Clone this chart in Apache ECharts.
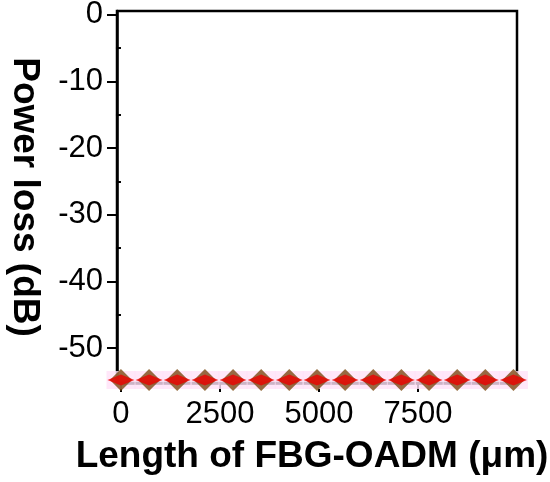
<!DOCTYPE html>
<html>
<head>
<meta charset="utf-8">
<script src="https://cdn.jsdelivr.net/npm/echarts@6/dist/echarts.min.js"></script>
<style>
  html, body { margin: 0; padding: 0; background: #fff; }
  #chart { width: 550px; height: 482px; }
</style>
</head>
<body>
<div id="chart"></div>
<script>
// length of the FBG-OADM (um) and measured power loss (dB)
var lengths = [0, 710, 1420, 2120, 2830, 3540, 4250, 4950, 5660, 6370, 7080, 7780, 8490, 9200, 9910]
var powerLoss = [-54.8, -54.8, -54.8, -54.8, -54.8, -54.8, -54.8, -54.8, -54.8, -54.8, -54.8, -54.8, -54.8, -54.8, -54.8]
var xTicks = [0, 2500, 5000, 7500]
var yTicks = [0, -10, -20, -30, -40, -50]
var yMinorTicks = [-5, -15, -25, -35, -45]

var font = ['Liberation Sans', 'Arial', 'sans-serif']
var points = lengths.map(function (v, i) { return [v, powerLoss[i]] })

const chart = echarts.init(document.getElementById('chart'))

var option = {
  animation: false,
  grid: {
    left: 117,
    right: 33,
    top: 11,
    bottom: 99,
    outerBoundsMode: 'none',
    containLabel: false,
    show: true,
    borderColor: '#000',
    borderWidth: 2.5,
  },
  xAxis: {
    type: 'value',
    min: -100,
    max: 10000,
    name: 'Length of FBG-OADM (μm)',
    nameLocation: 'middle',
    nameGap: 55,
    nameTextStyle: {
      color: '#000',
      fontSize: 37,
      fontWeight: 'bold',
      fontFamily: font,
      padding: [0, 10, 0, 0],
    },
    splitLine: { show: false },
    axisLine: { onZero: false, lineStyle: { color: '#000', width: 2.5 } },
    axisTick: { customValues: xTicks, length: 9, lineStyle: { color: '#000', width: 2 } },
    axisLabel: {
      customValues: xTicks,
      formatter: function (v) { return String(v) },
      margin: 16,
      color: '#000',
      fontSize: 31,
      fontFamily: font,
    },
  },
  yAxis: [
    {
      type: 'value',
      min: -55.25,
      max: 0.55,
      name: 'Power loss (dB)',
      nameLocation: 'middle',
      nameRotate: -90,
      nameGap: 74,
      nameTextStyle: {
        color: '#000',
        fontSize: 37,
        fontWeight: 'bold',
        fontFamily: font,
      },
      splitLine: { show: false },
      axisLine: { onZero: false, lineStyle: { color: '#000', width: 2.5 } },
      axisTick: { customValues: yTicks, length: 10, lineStyle: { color: '#000', width: 2 } },
      axisLabel: {
        customValues: yTicks,
        formatter: function (v) { return String(v) },
        margin: 14,
        color: '#000',
        fontSize: 31,
        fontFamily: font,
      },
    },
    {
      // only the short ticks between the labelled ones
      type: 'value',
      position: 'left',
      min: -55.25,
      max: 0.55,
      splitLine: { show: false },
      axisLine: { show: false },
      axisTick: { customValues: yMinorTicks, length: 5, lineStyle: { color: '#000', width: 2 } },
      axisLabel: { show: false },
    },
  ],
  series: [
    {
      type: 'scatter',
      data: points,
      clip: false,
      symbol: 'rect',
      symbolSize: [29, 18],
      itemStyle: { color: 'rgb(255,225,248)' },
      silent: true,
      z: 1,
    },
    {
      type: 'scatter',
      data: points,
      clip: false,
      symbol: 'diamond',
      symbolSize: 22,
      itemStyle: { color: '#7d4a14' },
      z: 2,
    },
    {
      type: 'scatter',
      data: points,
      clip: false,
      symbol: 'diamond',
      symbolSize: [27, 11],
      itemStyle: { color: '#ee0000' },
      z: 3,
    },
  ],
}

chart.setOption(option)
window.onresize = () => {
  chart.resize()
}
</script>
</body>
</html>
